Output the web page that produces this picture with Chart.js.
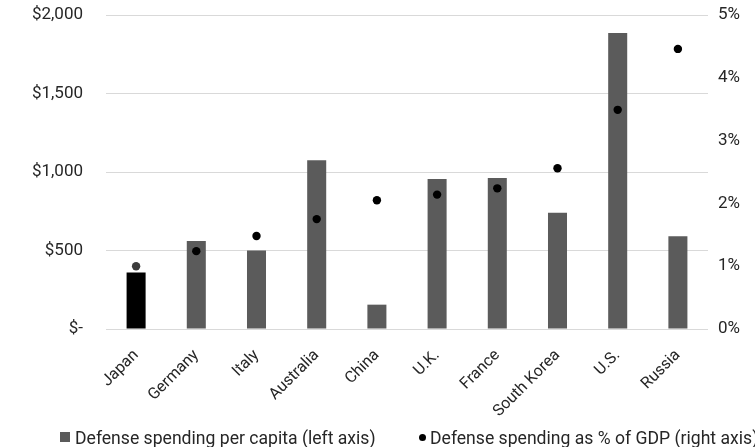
<!DOCTYPE html>
<html>
<head>
<meta charset="utf-8">
<script src="https://cdn.jsdelivr.net/npm/chart.js@4.4.1/dist/chart.umd.min.js"></script>
<style>
  html, body { margin: 0; padding: 0; background: #fff; overflow: hidden; }
  #wrap { position: relative; width: 755px; height: 447px; overflow: hidden; }
  .leg { position: absolute; top: 428px; height: 20px; line-height: 20px; white-space: nowrap; font-family: Roboto, sans-serif; font-size: 17.6px; color: #262626; }
  .sq { position: absolute; left: 0; top: 4px; width: 10px; height: 10px; background: #5b5b5b; }
  .dot { position: absolute; left: 0; top: 6px; width: 7px; height: 7px; border-radius: 50%; background: #000; }
</style>
</head>
<body>
<div id="wrap">
  <canvas id="c" width="755" height="447"></canvas>
  <div class="leg" style="left:60px"><span class="sq"></span><span id="t0" style="position:absolute;left:15px"></span></div>
  <div class="leg" style="left:419px"><span class="dot"></span><span id="t1" style="position:absolute;left:11px"></span></div>
</div>
<script>
const categories = ["Japan", "Germany", "Italy", "Australia", "China", "U.K.", "France", "South Korea", "U.S.", "Russia"];
const perCapita = [360, 560, 500, 1075, 155, 955, 962, 741, 1885, 590];
const pctGDP = [1.0, 1.24, 1.48, 1.75, 2.05, 2.14, 2.24, 2.56, 3.49, 4.46];
const seriesNames = ["Defense spending per capita (left axis)", "Defense spending as % of GDP (right axis)"];
const leftTicks = [0, 500, 1000, 1500, 2000];
const rightTicks = [0, 1, 2, 3, 4, 5];

const barColors = categories.map((c, i) => i === 0 ? "#000000" : "#5b5b5b");
const dotColors = categories.map((c, i) => i === 0 ? "#3c3c3c" : "#000000");

const textColor = "#262626";
const yFont = { family: "Roboto, sans-serif", size: 17 };
const xFont = { family: "Roboto, sans-serif", size: 16 };

function fixVPad(s, w) { s.width = w; s.paddingTop = 15; s.paddingBottom = 0; }

new Chart(document.getElementById("c"), {
  data: {
    labels: categories,
    datasets: [
      {
        type: "line",
        label: seriesNames[1],
        data: pctGDP,
        yAxisID: "yR",
        showLine: false,
        pointRadius: 4.2,
        pointHoverRadius: 4.2,
        pointBackgroundColor: dotColors,
        pointBorderWidth: 0,
        order: 0
      },
      {
        type: "bar",
        label: seriesNames[0],
        data: perCapita,
        yAxisID: "yL",
        backgroundColor: barColors,
        barPercentage: 0.316,
        categoryPercentage: 1.0,
        order: 1
      }
    ]
  },
  options: {
    responsive: false,
    animation: false,
    layout: { padding: { top: 0, left: 0, right: 0, bottom: 0 } },
    plugins: { legend: { display: false }, tooltip: { enabled: false } },
    scales: {
      x: {
        grid: { display: false, drawTicks: false },
        border: { display: false },
        ticks: { color: textColor, font: xFont, minRotation: 45, maxRotation: 45, padding: 17 },
        afterFit: s => { s.height = 118; s.paddingLeft = 0; s.paddingRight = 0; }
      },
      yL: {
        position: "left",
        min: 0, max: 2000,
        afterBuildTicks: s => { s.ticks = leftTicks.map(v => ({ value: v })); },
        grid: { color: "#d9d9d9", drawTicks: false, lineWidth: 1 },
        border: { display: false },
        ticks: {
          color: textColor, font: yFont, padding: 23,
          callback: v => v === 0 ? "$-" : "$" + v.toLocaleString("en-US")
        },
        afterFit: s => fixVPad(s, 106)
      },
      yR: {
        position: "right",
        min: 0, max: 5,
        afterBuildTicks: s => { s.ticks = rightTicks.map(v => ({ value: v })); },
        grid: { display: false, drawTicks: false },
        border: { display: false },
        ticks: { color: textColor, font: yFont, padding: 10, callback: v => v + "%" },
        afterFit: s => fixVPad(s, 47)
      }
    }
  }
});

document.getElementById("t0").textContent = seriesNames[0];
document.getElementById("t1").textContent = seriesNames[1];
</script>
</body>
</html>
